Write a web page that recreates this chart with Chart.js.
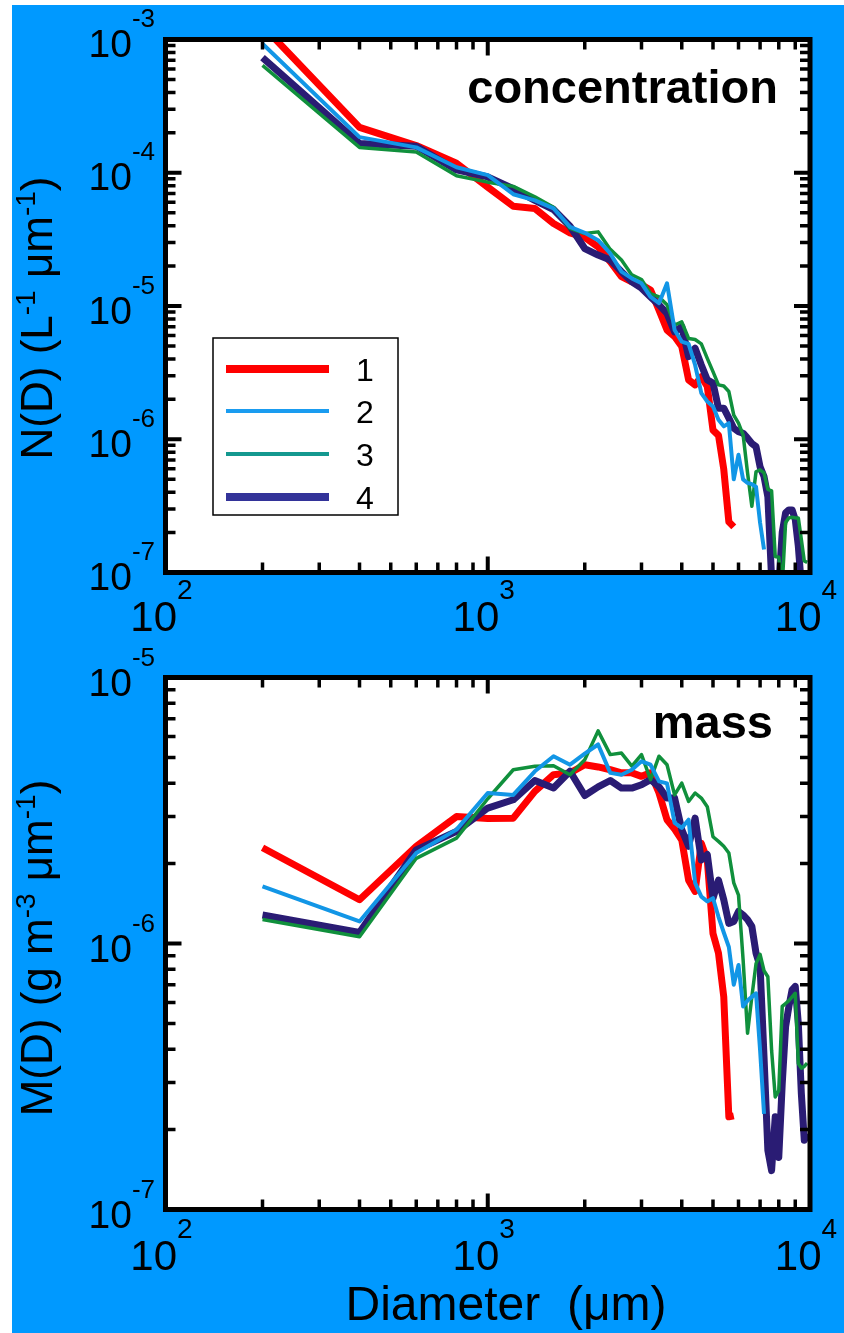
<!DOCTYPE html>
<html>
<head>
<meta charset="utf-8">
<script src="https://cdn.jsdelivr.net/npm/chart.js@4.4.0/dist/chart.umd.min.js"></script>
<style>
body { margin: 0; background: #fff; width: 844px; height: 1333px; overflow: hidden; position: relative; }
#bg { position: absolute; left: 12px; top: 5px; width: 832px; height: 1328px; background: #0099ff; }
canvas { position: absolute; left: 0; }
#concChart { top: 0; }
#massChart { top: 640px; }
</style>
</head>
<body>
<div id="bg"></div>
<canvas id="concChart" width="844" height="640"></canvas>
<canvas id="massChart" width="844" height="693"></canvas>
<script>
// bin diameters (um)
const diameters = [200, 400, 600, 800, 1000, 1200, 1400, 1600, 1800, 2000,
  2200, 2400, 2600, 2800, 3000, 3200, 3400, 3600, 3800, 4000,
  4200, 4400, 4600, 4800, 5000, 5200, 5400, 5600, 5800, 6000,
  6200, 6400, 6600, 6800, 7000, 7200, 7400, 7600, 7800, 8000,
  8200, 8400, 8600, 8800, 9000, 9200, 9400, 9600, 9800];

// N(D), L-1 um-1
const concRun1 = [1.27e-3, 2.19e-4, 1.6e-4, 1.18e-4, 7.8e-5, 5.6e-5, 5.4e-5, 4.16e-5, 3.54e-5, 3.27e-5,
  2.78e-5, 2.15e-5, 1.66e-5, 1.52e-5, 1.44e-5, 1.32e-5, 9.3e-6, 6.6e-6, 5.9e-6, 4.96e-6,
  2.79e-6, 2.56e-6, 2.95e-6, 2.49e-6, 1.17e-6, 1.07e-6, 5.95e-7, 2.4e-7, 2.2e-7, null,
  null, null, null, null, null, null, null, null, null, null,
  null, null, null, null, null, null, null, null, null];
const concRun2 = [9.3e-4, 1.85e-4, 1.55e-4, 1.1e-4, 9.6e-5, 6.9e-5, 6.2e-5, 5.4e-5, 3.93e-5, 3.54e-5,
  3.12e-5, 2.48e-5, 1.81e-5, 1.61e-5, 1.48e-5, 1.17e-5, 1.05e-5, 1.48e-5, 6.6e-6, 5.4e-6,
  5.2e-6, 3.61e-6, 2.22e-6, 1.92e-6, 1.76e-6, 1.4e-6, 1.25e-6, 1.32e-6, 5.0e-7, 7.65e-7,
  5.0e-7, 4.7e-7, 4.6e-7, 4.4e-7, 2.36e-7, 1.49e-7, null, null, null, null,
  null, null, null, null, null, null, null, null, null];
const concRun3 = [6.4e-4, 1.55e-4, 1.43e-4, 9.5e-5, 8.5e-5, 7.9e-5, 6.6e-5, 5.5e-5, 3.82e-5, 3.5e-5,
  3.6e-5, 2.66e-5, 2.21e-5, 1.71e-5, 1.58e-5, 1.24e-5, 1.17e-5, 1.02e-5, 7.2e-6, 7.6e-6,
  5.7e-6, 5.6e-6, 5.2e-6, 4.05e-6, 3.22e-6, 2.56e-6, 2.51e-6, 2.28e-6, 1.52e-6, 1.32e-6,
  1.08e-6, 5.6e-7, 3.14e-7, 5.7e-7, 5.9e-7, 5.6e-7, 4.2e-7, 4.1e-7, 1.32e-7, 1.3e-7,
  8e-8, 2.37e-7, 2.57e-7, 2.6e-7, 2.57e-7, 2.57e-7, 1.77e-7, 1.22e-7, 1.19e-7];
const concRun4 = [7.3e-4, 1.66e-4, 1.58e-4, 1.05e-4, 9.3e-5, 7.6e-5, 6.2e-5, 5.3e-5, 3.97e-5, 2.7e-5,
  2.41e-5, 2.21e-5, 1.81e-5, 1.52e-5, 1.36e-5, 1.17e-5, 1.02e-5, 8.8e-6, 6.4e-6, 7.0e-6,
  4.17e-6, 4.82e-6, 3.61e-6, 2.79e-6, 2.64e-6, 1.71e-6, 1.71e-6, 1.44e-6, 1.21e-6, 1.14e-6,
  1.11e-6, 1.02e-6, 9.3e-7, 8.8e-7, 6.2e-7, 5.25e-7, 3.7e-7, 9e-8, 8e-8, 8e-8,
  2.0e-7, 2.8e-7, 2.95e-7, 2.95e-7, 2.5e-7, 1.57e-7, 8e-8, 8e-8, 8e-8];

// M(D), g m-3 um-1
const massRun1 = [2.29e-6, 1.46e-6, 2.32e-6, 3.0e-6, 2.95e-6, 2.96e-6, 3.73e-6, 4.31e-6, 4.38e-6, 4.7e-6,
  4.61e-6, 4.5e-6, 4.38e-6, 4.38e-6, 4.25e-6, 4.38e-6, 3.68e-6, 2.92e-6, 2.69e-6, 2.45e-6,
  1.73e-6, 1.57e-6, 2.38e-6, 2.06e-6, 1.09e-6, 9.2e-7, 6.3e-7, 2.23e-7, 2.25e-7, null,
  null, null, null, null, null, null, null, null, null, null,
  null, null, null, null, null, null, null, null, null];
const massRun2 = [1.64e-6, 1.21e-6, 2.19e-6, 2.68e-6, 3.68e-6, 3.62e-6, 4.44e-6, 5.06e-6, 4.7e-6, 5.17e-6,
  5.6e-6, 4.38e-6, 4.31e-6, 4.5e-6, 4.84e-6, 4.7e-6, 4.07e-6, 4.0e-6, 2.84e-6, 2.72e-6,
  2.92e-6, 1.69e-6, 1.5e-6, 1.44e-6, 1.48e-6, 1.26e-6, 1.1e-6, 9.7e-7, 7.0e-7, 8.3e-7,
  5.8e-7, 6.1e-7, 6.3e-7, 6.5e-7, 3.97e-7, 2.29e-7, null, null, null, null,
  null, null, null, null, null, null, null, null, null];
const massRun3 = [1.23e-6, 1.06e-6, 2.09e-6, 2.49e-6, 3.5e-6, 4.5e-6, 4.64e-6, 4.66e-6, 4.31e-6, 4.91e-6,
  6.3e-6, 5.13e-6, 5.2e-6, 4.64e-6, 5.13e-6, 4.13e-6, 5.06e-6, 4.7e-6, 3.62e-6, 4.01e-6,
  3.42e-6, 3.68e-6, 3.52e-6, 3.27e-6, 2.52e-6, 2.42e-6, 2.32e-6, 2.19e-6, 1.69e-6, 1.52e-6,
  8.7e-7, 4.6e-7, 6.3e-7, 8.4e-7, 9.1e-7, 7.9e-7, 7.5e-7, 3.97e-7, 2.65e-7, 2.8e-7,
  5.8e-7, 5.95e-7, 6.1e-7, 6.3e-7, 6.5e-7, 3.54e-7, 3.4e-7, 3.45e-7, 3.55e-7];
const massRun4 = [1.28e-6, 1.1e-6, 2.25e-6, 2.64e-6, 3.23e-6, 3.47e-6, 4.1e-6, 3.84e-6, 4.44e-6, 3.6e-6,
  3.88e-6, 4.1e-6, 3.84e-6, 3.84e-6, 3.95e-6, 4.13e-6, 3.88e-6, 3.52e-6, 3.52e-6, 2.68e-6,
  2.32e-6, 2.96e-6, 2.06e-6, 2.16e-6, 1.48e-6, 1.73e-6, 1.46e-6, 1.19e-6, 1.21e-6, 1.32e-6,
  1.28e-6, 1.23e-6, 1.16e-6, 9.2e-7, 8.2e-7, 3.75e-7, 1.67e-7, 1.4e-7, 2.23e-7, 1.57e-7,
  2.97e-7, 4.87e-7, 5.8e-7, 6.7e-7, 6.9e-7, 5.0e-7, 2.73e-7, 1.82e-7, 1.93e-7];

const runLabels = ['1', '2', '3', '4'];
const xTickValues = [100, 1000, 10000];
const xTickExps = ['2', '3', '4'];
const concTickValues = [1e-3, 1e-4, 1e-5, 1e-6, 1e-7];
const concTickExps = ['-3', '-4', '-5', '-6', '-7'];
const massTickValues = [1e-5, 1e-6, 1e-7];
const massTickExps = ['-5', '-6', '-7'];

const lineColors = ['#ff0000', '#1296e6', '#10903c', '#2a1c74'];
const lineWidths = [7, 4, 3.5, 7];
const legendColors = ['#ff0000', '#1a9cf0', '#14988f', '#333399'];
const drawOrder = [4, 1, 2, 3];

const FONT = '"Liberation Sans", Arial, Helvetica, sans-serif';

function minorValues(min, max) {
  const out = [];
  for (let k = Math.round(Math.log10(min)); k < Math.round(Math.log10(max)); k++) {
    for (let m = 1; m <= 9; m++) out.push({ v: m * Math.pow(10, k), major: m === 1 });
  }
  out.push({ v: max, major: true });
  return out;
}

function drawRotTitle(ctx, parts, x, cy) {
  ctx.save();
  ctx.translate(x, cy);
  ctx.rotate(-Math.PI / 2);
  ctx.fillStyle = '#000';
  ctx.textBaseline = 'alphabetic';
  ctx.textAlign = 'left';
  let total = 0;
  parts.forEach(p => { ctx.font = (p.sup ? 28 : 44) + 'px ' + FONT; total += ctx.measureText(p.t).width; });
  let cx = -total / 2;
  parts.forEach(p => {
    ctx.font = (p.sup ? 28 : 44) + 'px ' + FONT;
    ctx.fillText(p.t, cx, p.sup ? -17 : 0);
    cx += ctx.measureText(p.t).width;
  });
  ctx.restore();
}

const axesPlugin = {
  id: 'axesFrame',
  beforeDraw(chart) {
    const a = chart.chartArea, ctx = chart.ctx;
    ctx.save();
    ctx.fillStyle = '#fff';
    ctx.fillRect(a.left, a.top, a.right - a.left, a.bottom - a.top);
    ctx.restore();
  },
  afterDraw(chart, args, opts) {
    const a = chart.chartArea, ctx = chart.ctx;
    const xs = chart.scales.x, ys = chart.scales.y;
    ctx.save();
    ctx.strokeStyle = '#000';
    ctx.lineCap = 'butt';
    // ticks, all four sides, pointing in
    minorValues(xs.min, xs.max).forEach(t => {
      const px = xs.getPixelForValue(t.v);
      const len = t.major ? 16 : 10;
      ctx.lineWidth = t.major ? 4 : 3.5;
      ctx.beginPath();
      ctx.moveTo(px, a.bottom); ctx.lineTo(px, a.bottom - len);
      ctx.moveTo(px, a.top); ctx.lineTo(px, a.top + len);
      ctx.stroke();
    });
    minorValues(ys.min, ys.max).forEach(t => {
      const py = ys.getPixelForValue(t.v);
      const len = t.major ? 16 : 10;
      ctx.lineWidth = t.major ? 4 : 3.5;
      ctx.beginPath();
      ctx.moveTo(a.left, py); ctx.lineTo(a.left + len, py);
      ctx.moveTo(a.right, py); ctx.lineTo(a.right - len, py);
      ctx.stroke();
    });
    ctx.lineWidth = 5;
    ctx.strokeRect(a.left, a.top, a.right - a.left, a.bottom - a.top);

    // tick labels
    ctx.fillStyle = '#000';
    ctx.textAlign = 'left';
    ctx.textBaseline = 'alphabetic';
    xTickValues.forEach((v, i) => {
      const px = xs.getPixelForValue(v);
      ctx.font = '42px ' + FONT;
      const wb = ctx.measureText('10').width;
      ctx.font = '28px ' + FONT;
      const we = ctx.measureText(xTickExps[i]).width;
      const left = px - 4 - (wb + we) / 2;
      const base = a.bottom + opts.xLabelDrop;
      ctx.font = '42px ' + FONT;
      ctx.fillText('10', left, base);
      ctx.font = '28px ' + FONT;
      ctx.fillText(xTickExps[i], left + wb, base - 32);
    });
    opts.yTicks.forEach((v, i) => {
      const py = ys.getPixelForValue(v);
      const exp = opts.yExps[i];
      ctx.font = '26px ' + FONT;
      const we = ctx.measureText(exp).width;
      ctx.font = '39px ' + FONT;
      const wb = ctx.measureText('10').width;
      const base = py + opts.yLabelDrop;
      ctx.fillText('10', 155 - we - wb, base);
      ctx.font = '26px ' + FONT;
      ctx.fillText(exp, 155 - we, base - 30);
    });

    // axis title
    drawRotTitle(ctx, opts.yTitle, 52, opts.yTitleY);

    // panel label
    ctx.font = 'bold 47px ' + FONT;
    ctx.textAlign = 'right';
    ctx.fillText(opts.panelLabel, opts.panelX, opts.panelY);

    if (opts.xTitle) {
      ctx.font = '48px ' + FONT;
      ctx.textAlign = 'center';
      ctx.fillText(opts.xTitle, 506, opts.xTitleY);
    }

    if (opts.legend) {
      ctx.fillStyle = '#fff';
      ctx.fillRect(213, 338, 185, 177);
      ctx.lineWidth = 1.5;
      ctx.strokeStyle = '#000';
      ctx.strokeRect(213, 338, 185, 177);
      const rows = [369, 411, 454, 497];
      const lw = [8, 4, 4, 8];
      runLabels.forEach((lab, i) => {
        ctx.strokeStyle = legendColors[i];
        ctx.lineWidth = lw[i];
        ctx.beginPath();
        ctx.moveTo(226, rows[i]); ctx.lineTo(329, rows[i]);
        ctx.stroke();
        ctx.fillStyle = '#000';
        ctx.font = '32px ' + FONT;
        ctx.textAlign = 'left';
        ctx.fillText(lab, 356, rows[i] + 11.5);
      });
    }
    ctx.restore();
  }
};

function buildDatasets(runs) {
  return runs.map((vals, i) => ({
    label: runLabels[i],
    data: diameters.map((d, j) => ({ x: d, y: vals[j] })),
    borderColor: lineColors[i],
    borderWidth: lineWidths[i],
    order: drawOrder[i],
    clip: 0,
    fill: false,
  }));
}

function makeChart(id, runs, yMin, yMax, padding, frameOpts) {
  return new Chart(document.getElementById(id), {
    type: 'line',
    data: { datasets: buildDatasets(runs) },
    options: {
      responsive: false,
      animation: false,
      devicePixelRatio: 1,
      layout: { padding: padding },
      parsing: true,
      spanGaps: false,
      elements: {
        point: { radius: 0 },
        line: { tension: 0, borderJoinStyle: 'round', borderCapStyle: 'butt' },
      },
      plugins: {
        legend: { display: false },
        tooltip: { enabled: false },
        axesFrame: frameOpts,
      },
      scales: {
        x: { type: 'logarithmic', min: 100, max: 10000, display: false },
        y: { type: 'logarithmic', min: yMin, max: yMax, display: false },
      },
    },
    plugins: [axesPlugin],
  });
}

makeChart('concChart', [concRun1, concRun2, concRun3, concRun4], 1e-7, 1e-3,
  { left: 165.5, right: 34, top: 39.5, bottom: 67.5 },
  {
    yTicks: concTickValues, yExps: concTickExps, yLabelDrop: 17.5, xLabelDrop: 58,
    yTitle: [{ t: 'N(D) (L' }, { t: '-1', sup: true }, { t: ' \u03bcm' }, { t: '-1', sup: true }, { t: ')' }],
    yTitleY: 318,
    panelLabel: 'concentration', panelX: 778, panelY: 103,
    legend: true,
  });

makeChart('massChart', [massRun1, massRun2, massRun3, massRun4], 1e-7, 1e-5,
  { left: 165.5, right: 34, top: 37.5, bottom: 123.5 },
  {
    yTicks: massTickValues, yExps: massTickExps, yLabelDrop: 18, xLabelDrop: 60,
    yTitle: [{ t: 'M(D) (g m' }, { t: '-3', sup: true }, { t: ' \u03bcm' }, { t: '-1', sup: true }, { t: ')' }],
    yTitleY: 308,
    panelLabel: 'mass', panelX: 773, panelY: 98,
    xTitle: 'Diameter  (\u03bcm)', xTitleY: 680,
    legend: false,
  });
</script>
</body>
</html>
